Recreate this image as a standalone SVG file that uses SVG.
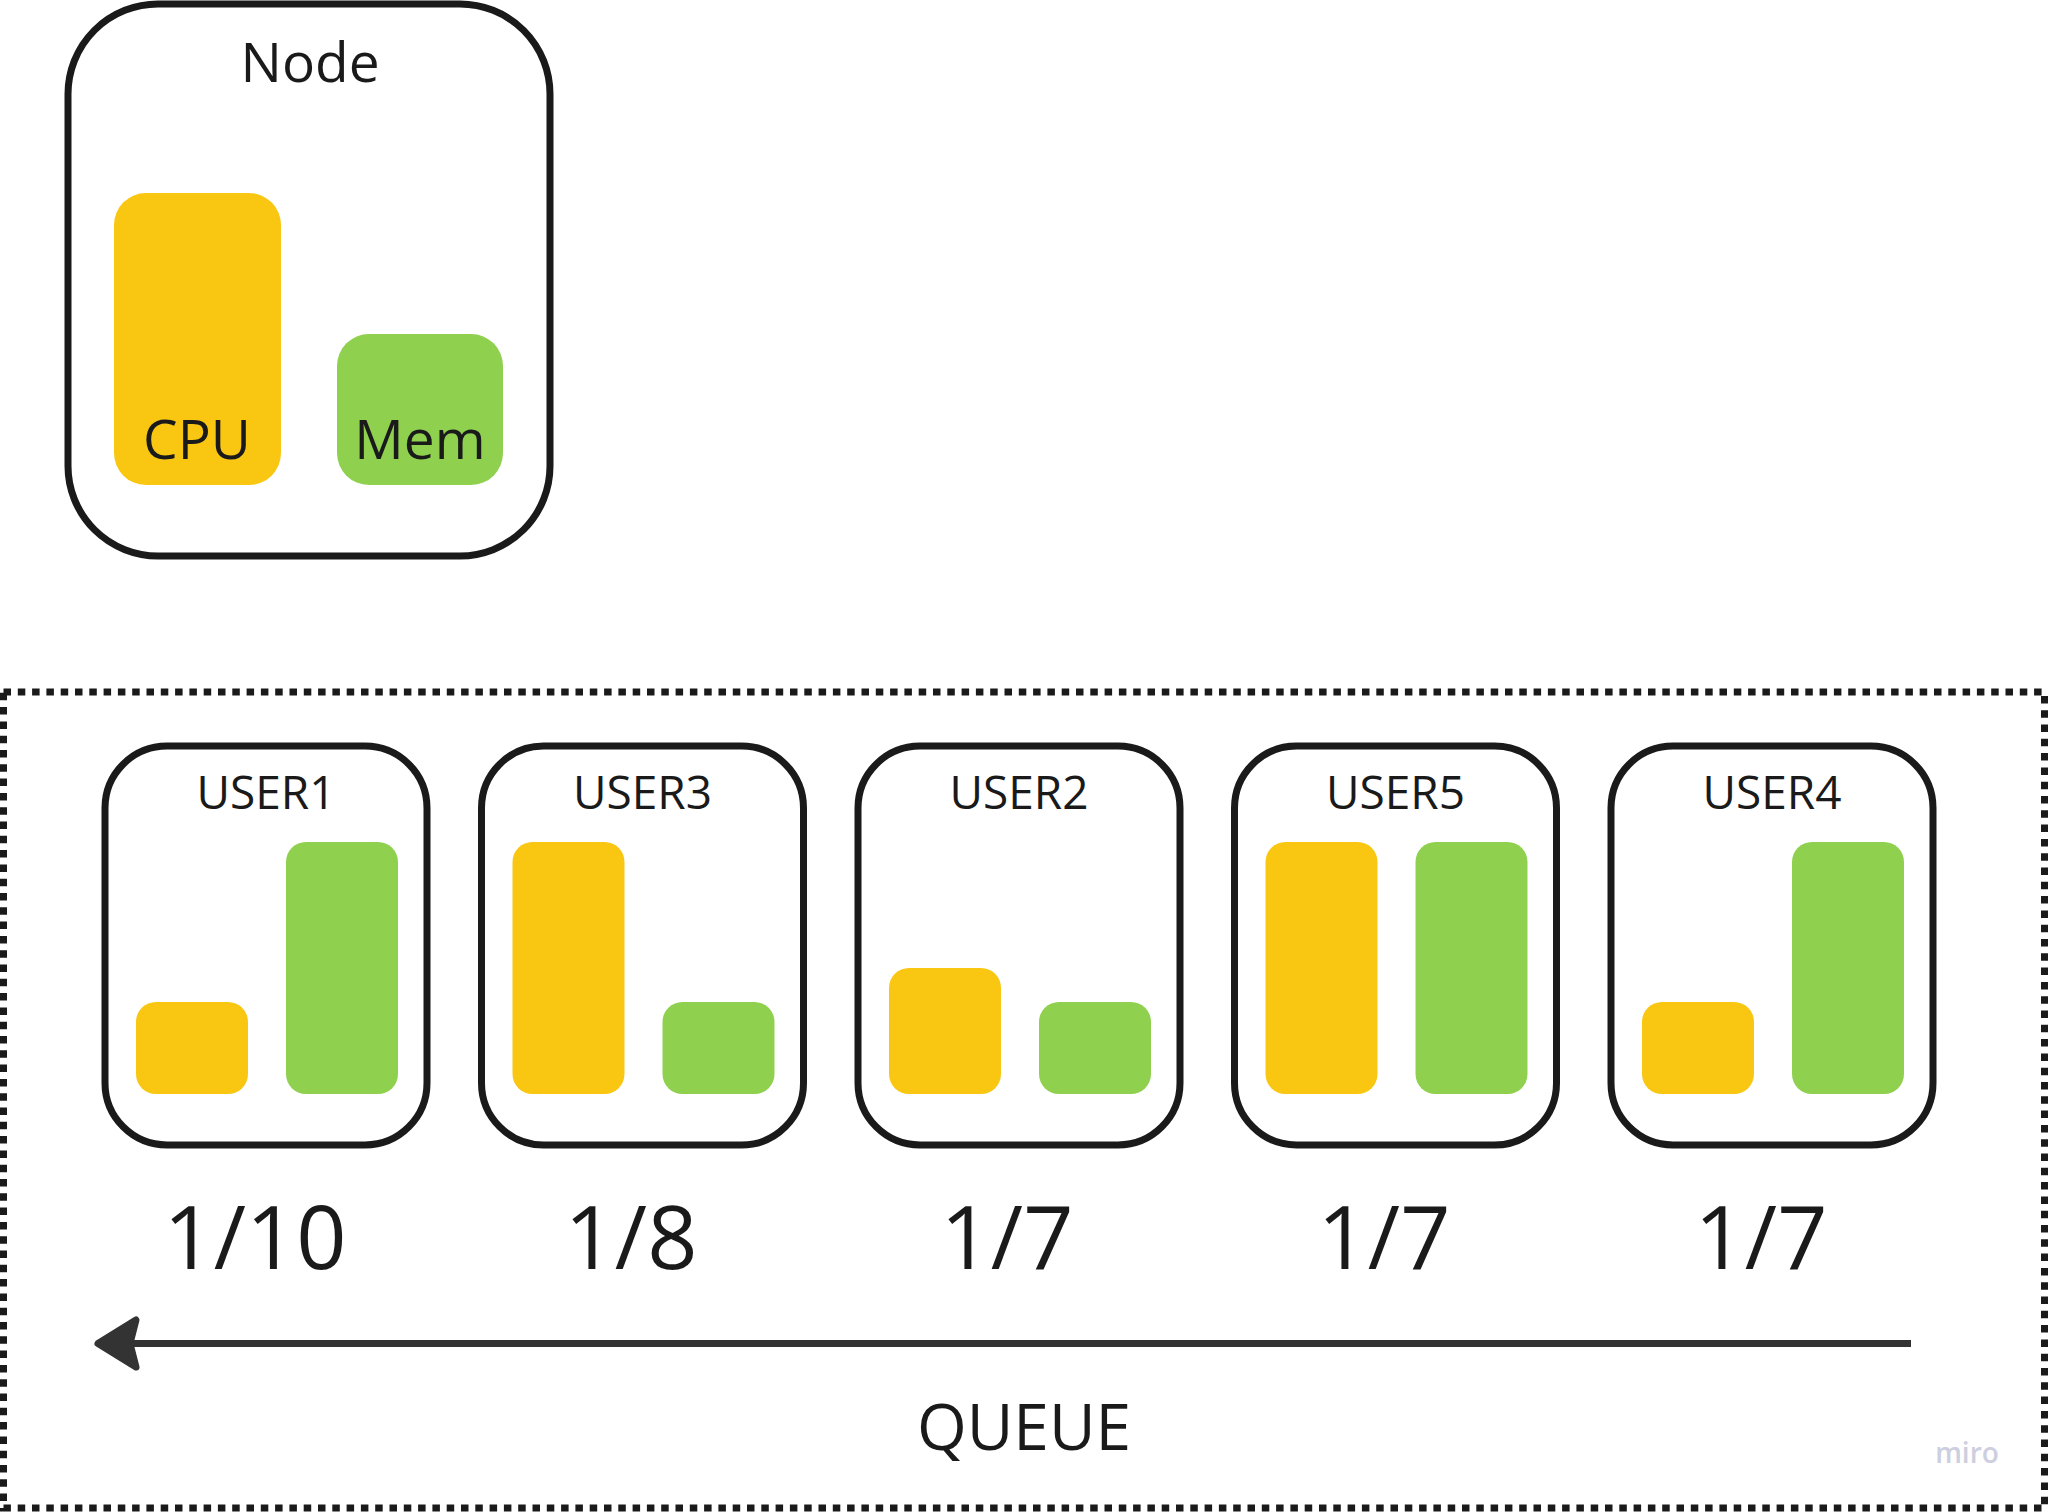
<svg xmlns="http://www.w3.org/2000/svg" width="2048" height="1512" viewBox="0 0 2048 1512">
<defs>
<style>
.box{fill:#fff;stroke:#1a1a1a;stroke-width:7}
.cpu{fill:#F9C712}
.mem{fill:#8FD14F}
.t{font-family:"Open Sans","Liberation Sans",sans-serif;fill:#1a1a1a;text-anchor:middle}
.title{font-size:46px}
.frac{font-size:88px}
</style>
</defs>
<rect width="2048" height="1512" fill="#fff"/>

<g id="node">
<rect class="box" x="68" y="4" width="482" height="552" rx="90"/>
<text class="t" x="310" y="82" font-size="55">Node</text>
<rect class="cpu" x="114" y="193" width="167" height="292" rx="32"/>
<rect class="mem" x="337" y="334" width="166" height="151" rx="32"/>
<text class="t" x="197" y="459" font-size="55">CPU</text>
<text class="t" x="420" y="459" font-size="55">Mem</text>
</g>

<g id="queue">
<rect x="3.5" y="692" width="2041" height="816" fill="none" stroke="#1a1a1a" stroke-width="7" stroke-dasharray="7.5 6.8"/>
</g>

<g id="user1">
<rect class="box" x="105" y="746" width="322" height="399" rx="62"/>
<text class="t title" x="266" y="809">USER1</text>
<rect class="cpu" x="136" y="1002" width="112" height="92" rx="20"/>
<rect class="mem" x="286" y="842" width="112" height="252" rx="20"/>
</g>
<g id="user3">
<rect class="box" x="481.5" y="746" width="322" height="399" rx="62"/>
<text class="t title" x="642.5" y="809">USER3</text>
<rect class="cpu" x="512.5" y="842" width="112" height="252" rx="20"/>
<rect class="mem" x="662.5" y="1002" width="112" height="92" rx="20"/>
</g>
<g id="user2">
<rect class="box" x="858" y="746" width="322" height="399" rx="62"/>
<text class="t title" x="1019" y="809">USER2</text>
<rect class="cpu" x="889" y="968" width="112" height="126" rx="20"/>
<rect class="mem" x="1039" y="1002" width="112" height="92" rx="20"/>
</g>
<g id="user5">
<rect class="box" x="1234.5" y="746" width="322" height="399" rx="62"/>
<text class="t title" x="1395.5" y="809">USER5</text>
<rect class="cpu" x="1265.5" y="842" width="112" height="252" rx="20"/>
<rect class="mem" x="1415.5" y="842" width="112" height="252" rx="20"/>
</g>
<g id="user4">
<rect class="box" x="1611" y="746" width="322" height="399" rx="62"/>
<text class="t title" x="1772" y="809">USER4</text>
<rect class="cpu" x="1642" y="1002" width="112" height="92" rx="20"/>
<rect class="mem" x="1792" y="842" width="112" height="252" rx="20"/>
</g>

<g id="fractions">
<text class="t frac" x="255" y="1269">1/10</text>
<text class="t frac" x="631" y="1269">1/8</text>
<text class="t frac" x="1007" y="1269">1/7</text>
<text class="t frac" x="1384" y="1269">1/7</text>
<text class="t frac" x="1761" y="1269">1/7</text>
</g>

<g id="connectors">
<line x1="1911" y1="1343.5" x2="132" y2="1343.5" stroke="#333" stroke-width="7"/>
<path d="M98 1343.5 L136 1320 L130 1343.5 L136 1367 Z" fill="#333" stroke="#333" stroke-width="7" stroke-linejoin="round"/>
</g>

<text class="t" x="1024" y="1450" font-size="64">QUEUE</text>
<text x="1967" y="1463" font-family="Open Sans, sans-serif" font-size="28" font-weight="600" fill="#cdcfe0" text-anchor="middle">miro</text>
</svg>
